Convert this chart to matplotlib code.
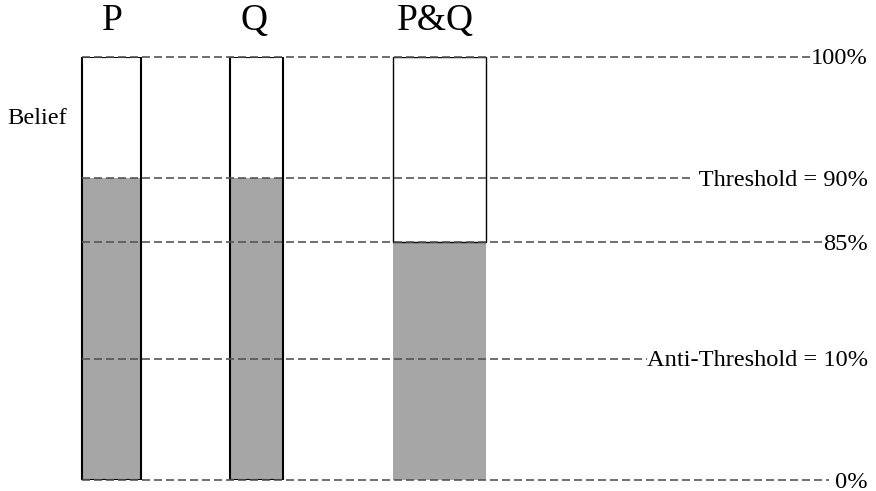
import numpy as np
import matplotlib
matplotlib.use("Agg")
from matplotlib import pyplot as plt
from matplotlib.transforms import offset_copy

# data
categories = ['P', 'Q', 'P&Q']
belief = [90, 90, 85]
levels = [100, 90, 85, 10, 0]
level_labels = ['100%', ' Threshold = 90%', '85%', 'Anti-Threshold = 10%', ' 0%']

# layout (pixels)
centers = [111.5, 256.5, 439.5]
title_x = [112.5, 253.5, 435]
widths = [59, 53, 93]
edge_lw = [1.5, 1.5, 1.0]

# schematic (non-linear) vertical spacing of the levels
scale_pts = [0, 10, 85, 90, 100]
scale_pos = [0, 121, 238, 302, 423]


def fwd(v):
    return np.interp(v, scale_pts, scale_pos)


def inv(p):
    return np.interp(p, scale_pos, scale_pts)


plt.rcParams['font.family'] = 'Liberation Serif'

fig = plt.figure(figsize=(8.76, 4.91), dpi=100)
ax = fig.add_axes([0, 11 / 491, 1, 423 / 491])
ax.set_yscale('function', functions=(fwd, inv))
ax.set_xlim(0, 876)
ax.set_ylim(0, 100)
ax.axis('off')

gray = '#a6a6a6'
for i, cat in enumerate(categories):
    ax.bar(centers[i], belief[i], width=widths[i], color=gray, zorder=1)
    if cat == 'P&Q':
        ax.bar(centers[i], 100 - belief[i], bottom=belief[i], width=widths[i],
               facecolor='none', edgecolor='black', linewidth=edge_lw[i], zorder=2)
    else:
        ax.bar(centers[i], 100, width=widths[i], facecolor='none',
               edgecolor='black', linewidth=edge_lw[i], zorder=2)
    ax.text(title_x[i], 1.045, cat, transform=ax.get_xaxis_transform(),
            ha='center', va='bottom', fontsize=27, clip_on=False)

lab_trans = offset_copy(ax.transData, fig=fig, x=0, y=-2, units='dots')
for lv, lab in zip(levels, level_labels):
    ax.plot([82, 866], [lv, lv], color='#555555', linewidth=1.2,
            linestyle=(0, (4.8, 2.4)), zorder=3, clip_on=False)
    ax.text(868, lv, lab, ha='right', va='center', fontsize=17.6,
            transform=lab_trans, zorder=4, clip_on=False,
            bbox=dict(facecolor='white', edgecolor='none', pad=0))

ax.text(7, 0.855, 'Belief', transform=ax.get_xaxis_transform(),
        ha='left', va='center', fontsize=17.6, clip_on=False)

fig.savefig('out.png', dpi=100)
